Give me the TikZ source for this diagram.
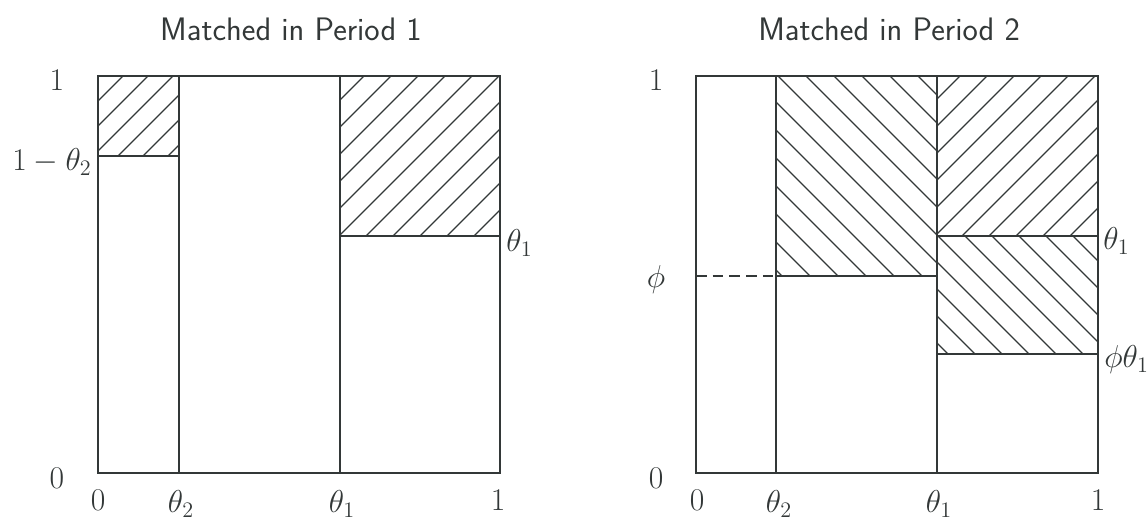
\RequirePackage{fix-cm}
\documentclass[tikz,border=0pt]{standalone}
\definecolor{ink}{rgb}{0.2,0.22,0.22}
\begin{document}
\begin{tikzpicture}[x=0.02cm,y=-0.02cm,
  ln/.style={line width=0.85pt, draw=ink, line cap=round},
  hatch/.style={line width=0.7pt, draw=ink},
  lab/.style={font=\fontsize{18}{20}\selectfont, inner sep=0pt, text=ink},
  ttl/.style={font=\sffamily\fontsize{18.5}{21}\selectfont, inner sep=0pt, text=ink}]
\useasboundingbox (0,0) rectangle (1148,519);

% ---------- Left panel ----------
\node[ttl] (t1) at (291,29) {Matched in Period 1};
\begin{scope}
  \clip (98,76) rectangle (179,156);
  \foreach \t in {23,48,...,273} \draw[hatch] (\t,76) -- ++(-200,200);
\end{scope}
\begin{scope}
  \clip (340,76) rectangle (500,236);
  \foreach \t in {364,391,...,724} \draw[hatch] (\t,76) -- ++(-300,300);
\end{scope}
\draw[ln] (98,76) rectangle (500,473);
\draw[ln] (179,76) -- (179,473);
\draw[ln] (340,76) -- (340,473);
\draw[ln] (98,156) -- (179,156);
\draw[ln] (340,236) -- (500,236);

\node[lab] (l1) at (57,80) {$1$};
\node[lab, anchor=east] (l1t2) at (92,162) {$1-\theta_2$};
\node[lab, anchor=west] (lt1) at (506,243) {$\theta_1$};
\node[lab] (l0) at (57,478) {$0$};
\node[lab, anchor=north] (b0) at (98,490) {$0$};
\node[lab, anchor=north] (bt2) at (181,490) {$\theta_2$};
\node[lab, anchor=north] (bt1) at (342,490) {$\theta_1$};
\node[lab, anchor=north] (b1) at (498,490) {$1$};

% ---------- Right panel ----------
\node[ttl] (t2) at (889,29) {Matched in Period 2};
\begin{scope}
  \clip (776,76) rectangle (937,276);
  \foreach \t in {498,526,...,950} \draw[hatch] (\t,76) -- ++(300,300);
\end{scope}
\begin{scope}
  \clip (937,76) rectangle (1098,236);
  \foreach \t in {960,987,...,1310} \draw[hatch] (\t,76) -- ++(-300,300);
\end{scope}
\begin{scope}
  \clip (937,236) rectangle (1098,354);
  \foreach \t in {803,830,...,1100} \draw[hatch] (\t,236) -- ++(300,300);
\end{scope}
\draw[ln] (696,76) rectangle (1098,473);
\draw[ln] (776,76) -- (776,473);
\draw[ln] (937,76) -- (937,473);
\draw[ln] (776,276) -- (937,276);
\draw[ln] (937,236) -- (1098,236);
\draw[ln] (937,354) -- (1098,354);
\draw[ln, dashed, line cap=butt, dash pattern=on 6pt off 3.5pt] (696,276) -- (776,276);

\node[lab] (r1) at (656,80) {$1$};
\node[lab] (rphi) at (656,280) {$\phi$};
\node[lab] (r0) at (656,478) {$0$};
\node[lab, anchor=west] (rt1) at (1103,241) {$\theta_1$};
\node[lab, anchor=west] (rpt1) at (1104,360) {$\phi\theta_1$};
\node[lab, anchor=north] (c0) at (697,490) {$0$};
\node[lab, anchor=north] (ct2) at (779,490) {$\theta_2$};
\node[lab, anchor=north] (ct1) at (939,490) {$\theta_1$};
\node[lab, anchor=north] (c1) at (1098,490) {$1$};
\end{tikzpicture}
\end{document}
